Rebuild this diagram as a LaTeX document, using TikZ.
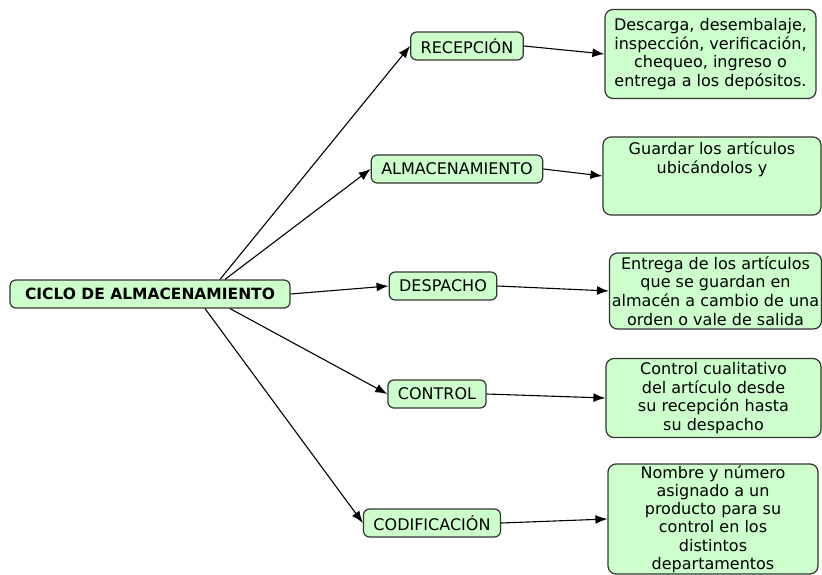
\documentclass[tikz,border=0pt]{standalone}
\usepackage{fontspec}
\setmainfont{DejaVu Sans}
\usetikzlibrary{arrows.meta}
\definecolor{boxgreen}{RGB}{204,255,204}

\begin{document}
\begin{tikzpicture}[x=1pt, y=-1pt]
    \tikzstyle{topic} = [
      anchor=center,
      align=center,
      draw=black!80,
      fill=boxgreen,
      line width=1.2pt,
      rounded corners=6pt,
      inner xsep=10pt,
      minimum height=28pt,
      font=\fontsize{16}{18}\selectfont,
    ]
    \tikzstyle{maintopic} = [
      topic,
      inner xsep=10pt,
      font=\fontsize{15.5}{18}\selectfont\bfseries,
    ]
    \tikzstyle{note} = [
      topic,
      rounded corners=8pt,
      inner sep=2pt,
      font=\fontsize{16}{18.7}\selectfont,
    ]
    \tikzstyle{arrow} = [
      line width=1.1pt,
      -{Latex[length=12pt,width=9pt]},
      draw=black,
    ]

    \useasboundingbox (0,0) rectangle (822,575);

    % main topic
    {
      \node[maintopic, minimum width=280pt] (ciclo) at (150,294) {CICLO DE ALMACENAMIENTO};
    }

    % subtopics
    {
      \node[topic] (recepcion) at (467,46)  {RECEPCIÓN};
      \node[topic] (almacen)   at (457,169) {ALMACENAMIENTO};
      \node[topic] (despacho)  at (443,286) {DESPACHO};
      \node[topic] (control)   at (437,394) {CONTROL};
      \node[topic] (codigo)    at (432,523) {CODIFICACIÓN};
    }

    % descriptions
    {
      \node[note, minimum width=211pt, minimum height=89pt] (recepcionNote) at (710.5,54)
        {Descarga, desembalaje,\\inspección, verificación,\\chequeo, ingreso o\\entrega a los depósitos.};
      \node[note, minimum width=218pt, minimum height=78pt] (almacenNote) at (712,176)
        {Guardar los artículos\\ubicándolos y\\~\\~};
      \node[note, minimum width=212pt, minimum height=76pt] (despachoNote) at (715.5,291)
        {Entrega de los artículos\\que se guardan en\\almacén a cambio de una\\orden o vale de salida};
      \node[note, minimum width=215pt, minimum height=79pt] (controlNote) at (713.5,398)
        {Control cualitativo\\del artículo desde\\su recepción hasta\\su despacho};
      \node[note, minimum width=210pt, minimum height=110pt, inner ysep=1pt,
            font=\fontsize{16}{18.2}\selectfont] (codigoNote) at (713,519)
        {Nombre y número\\asignado a un\\producto para su\\control en los\\distintos\\departamentos};
    }

    % main topic to subtopics
    {
      \draw[arrow] ([xshift=70pt] ciclo.north) -- (recepcion.west);
      \draw[arrow] ([xshift=75pt] ciclo.north) -- (almacen.west);
      \draw[arrow] (ciclo.east) -- (despacho.west);
      \draw[arrow] ([xshift=80pt] ciclo.south) -- (control.west);
      \draw[arrow] ([xshift=55pt] ciclo.south) -- (codigo.west);
    }

    % subtopics to descriptions
    {
      \draw[arrow] (recepcion.east) -- (recepcionNote.west);
      \draw[arrow] (almacen.east)   -- (almacenNote.west);
      \draw[arrow] (despacho.east)  -- (despachoNote.west);
      \draw[arrow] (control.east)   -- (controlNote.west);
      \draw[arrow] (codigo.east)    -- (codigoNote.west);
    }
\end{tikzpicture}
\end{document}
